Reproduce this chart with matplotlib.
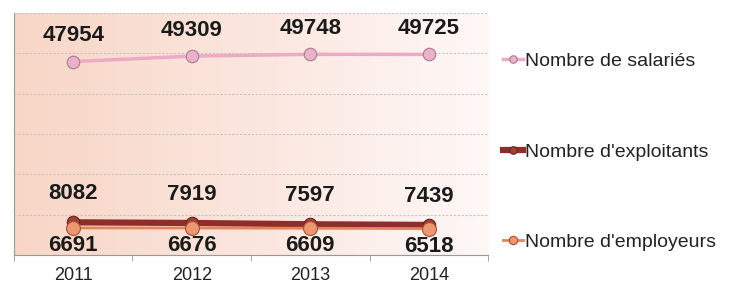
#Line chart: salariés, exploitants, employeurs 2011-2014
import matplotlib.pyplot as plt
import numpy as np
from matplotlib.colors import LinearSegmentedColormap

plt.rcParams['font.family'] = ['Liberation Sans', 'DejaVu Sans']

years = ['2011', '2012', '2013', '2014']
salaries = [47954, 49309, 49748, 49725]
exploitants = [8082, 7919, 7597, 7439]
employeurs = [6691, 6676, 6609, 6518]

x = np.arange(len(years))

fig = plt.figure(figsize=(7.34, 2.89), dpi=100)
ax = fig.add_axes([0.019, 0.118, 0.646, 0.837])

#background gradient (salmon on the left, fading to white)
bg = LinearSegmentedColormap.from_list('bg', ['#f8d6c6', '#fbe6de', '#fff8f7'])
grad = np.linspace(0, 1, 256).reshape(1, -1)
ax.imshow(grad, cmap=bg, aspect='auto', extent=(-0.5, 3.5, 0, 60000), zorder=0)

ax.set_xlim(-0.5, 3.5)
ax.set_ylim(0, 60000)
ax.set_yticks(np.arange(0, 60001, 10000))
ax.yaxis.grid(True, color='#c4c4c4', linestyle=(0, (2, 1.5)), linewidth=0.8)
ax.set_axisbelow(False)
ax.tick_params(axis='y', left=False, labelleft=False)

ax.set_xticks(x)
ax.set_xticklabels(years, fontsize=13, color='#222222')
ax.set_xticks(np.arange(-0.5, 4, 1), minor=True)
ax.tick_params(axis='x', which='major', length=0, pad=9)
ax.tick_params(axis='x', which='minor', length=4, color='#999999')

for s in ['top', 'right']:
    ax.spines[s].set_visible(False)
ax.spines['left'].set_color('#999999')
ax.spines['bottom'].set_color('#999999')

l1, = ax.plot(x, salaries, color='#eeaac4', lw=2.5, marker='o', ms=9,
              mfc='#e8b2c8', mec='#b07890', mew=0.8, zorder=3, label='Nombre de salariés')
l2, = ax.plot(x, exploitants, color='#8e2e2a', lw=4.5, marker='o', ms=9,
              mfc='#a0403a', mec='#6a2020', mew=0.8, zorder=3, label="Nombre d'exploitants")
l3, = ax.plot(x, employeurs, color='#e4845a', lw=2, marker='o', ms=10,
              mfc='#eb9870', mec='#a85030', mew=0.8, zorder=4, label="Nombre d'employeurs")

for xi, v in zip(x, salaries):
    ax.annotate(str(v), (xi, v), xytext=(0, 11), textcoords='offset points',
                ha='center', va='bottom', fontsize=16, fontweight='bold', color='#1a1a1a')
for xi, v in zip(x, exploitants):
    ax.annotate(str(v), (xi, v), xytext=(0, 13), textcoords='offset points',
                ha='center', va='bottom', fontsize=16, fontweight='bold', color='#1a1a1a')
for xi, v in zip(x, employeurs):
    ax.annotate(str(v), (xi, v), xytext=(0, -5), textcoords='offset points',
                ha='center', va='top', fontsize=16, fontweight='bold', color='#1a1a1a')

fig.legend(handles=[l1, l2, l3], loc='center left', bbox_to_anchor=(0.662, 0.475),
           frameon=False, fontsize=14, labelspacing=3.75, handlelength=1.0,
           handletextpad=0.1, markerscale=0.6, labelcolor='#222222')

fig.savefig('out.png', dpi=100)
